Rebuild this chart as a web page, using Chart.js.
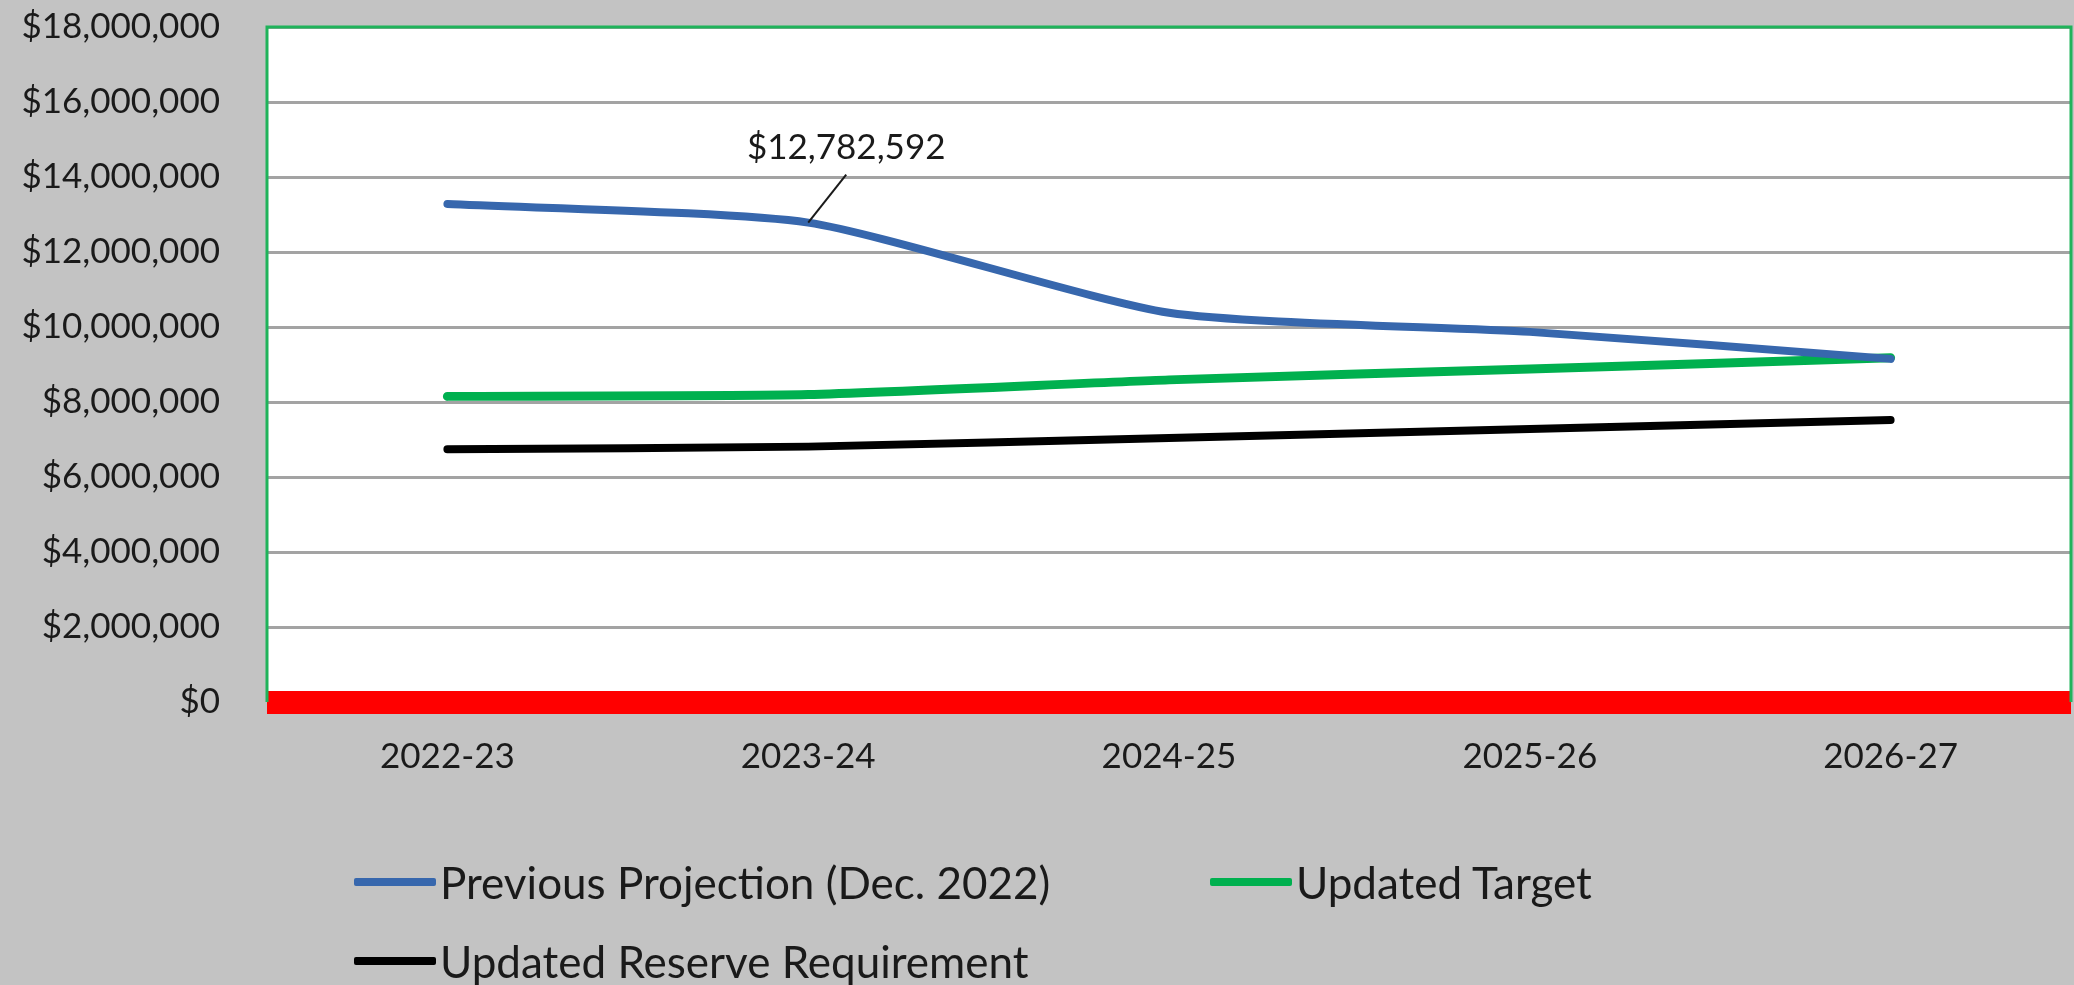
<!DOCTYPE html>
<html>
<head>
<meta charset="utf-8">
<title>Reserve Projection</title>
<script src="https://cdn.jsdelivr.net/npm/chart.js@4.4.1/dist/chart.umd.min.js"></script>
<style>
  html, body { margin: 0; padding: 0; background: #c3c3c3; }
  #wrap { position: relative; width: 2074px; height: 985px; }
  #legend {
    position: absolute; left: 354px; top: 842px;
    display: grid; grid-template-columns: 856px auto; grid-auto-rows: 79px;
    font-family: Lato, sans-serif; font-size: 44px; color: #1a1a1a;
  }
  #legend .item { display: flex; align-items: center; white-space: nowrap; }
  #legend .swatch { width: 82px; height: 8px; margin-right: 4px; border-radius: 2px; }
</style>
</head>
<body>
<div id="wrap">
  <canvas id="reserveChart"></canvas>
  <div id="legend"></div>
</div>
<script>
// fiscal years on the x axis
const years = ['2022-23', '2023-24', '2024-25', '2025-26', '2026-27'];

// series values ($)
const previousProjection = [13280000, 12782592, 10380000, 9870000, 9150000];
const updatedTarget = [8150000, 8200000, 8590000, 8880000, 9180000];
const reserveRequirement = [6740000, 6810000, 7040000, 7280000, 7520000];

// y axis range
const yMin = 0;
const yMax = 18000000;
const yStep = 2000000;

// point on the previous projection that gets a value callout
const calloutIndex = 1;

const TEXT = '#1a1a1a';
const FONT = 'Lato, sans-serif';

function money(v) {
  return '$' + Math.round(v).toLocaleString('en-US');
}

// white plot area with a thin green frame
const plotFrame = {
  id: 'plotFrame',
  beforeDraw(chart) {
    const { ctx, chartArea: a } = chart;
    ctx.save();
    ctx.fillStyle = '#ffffff';
    ctx.fillRect(a.left, a.top, a.right - a.left, a.bottom - a.top);
    ctx.restore();
  },
  beforeDatasetsDraw(chart) {
    const { ctx, chartArea: a } = chart;
    ctx.save();
    ctx.strokeStyle = '#1fb35a';
    ctx.lineWidth = 3;
    ctx.beginPath();
    ctx.moveTo(a.left, a.bottom);
    ctx.lineTo(a.left, a.top);
    ctx.lineTo(a.right, a.top);
    ctx.lineTo(a.right, a.bottom);
    ctx.stroke();
    ctx.restore();
  }
};

// value label with a leader line
const callout = {
  id: 'callout',
  afterDatasetsDraw(chart) {
    const pt = chart.getDatasetMeta(0).data[calloutIndex];
    if (!pt) return;
    const { ctx } = chart;
    ctx.save();
    ctx.strokeStyle = TEXT;
    ctx.lineWidth = 2;
    ctx.beginPath();
    ctx.moveTo(pt.x, pt.y);
    ctx.lineTo(pt.x + 38, pt.y - 48);
    ctx.stroke();
    ctx.font = '35px ' + FONT;
    ctx.fillStyle = TEXT;
    ctx.textAlign = 'center';
    ctx.textBaseline = 'middle';
    ctx.fillText(money(previousProjection[calloutIndex]), pt.x + 38, pt.y - 75);
    ctx.restore();
  }
};

const chart = new Chart(document.getElementById('reserveChart'), {
  type: 'line',
  data: {
    labels: years,
    datasets: [
      {
        label: 'Previous Projection (Dec. 2022)',
        data: previousProjection,
        borderColor: '#3767ad',
        borderWidth: 8
      },
      {
        label: 'Updated Target',
        data: updatedTarget,
        borderColor: '#00b04f',
        borderWidth: 9
      },
      {
        label: 'Updated Reserve Requirement',
        data: reserveRequirement,
        borderColor: '#000000',
        borderWidth: 8
      }
    ]
  },
  options: {
    responsive: true,
    maintainAspectRatio: false,
    animation: false,
    layout: { padding: { top: 27, right: 3, bottom: 0, left: 0 } },
    elements: {
      line: { tension: 0.2, borderCapStyle: 'round', borderJoinStyle: 'round', fill: false },
      point: { radius: 0, hoverRadius: 0 }
    },
    plugins: {
      legend: { display: false },
      tooltip: { enabled: false }
    },
    scales: {
      x: {
        offset: true,
        grid: { display: false, drawTicks: false },
        border: { display: false },
        ticks: { color: TEXT, font: { family: FONT, size: 35 }, padding: 34, maxRotation: 0 },
        afterFit: scale => { scale.height = 283; }
      },
      y: {
        min: yMin,
        max: yMax,
        border: { display: false },
        grid: {
          // invisible tick marks push the labels away from the plot
          drawTicks: true,
          tickLength: 41,
          tickColor: 'rgba(0,0,0,0)',
          color: c => (c.tick && c.tick.value === 0 ? '#ff0000' : '#a3a3a3'),
          lineWidth: c => (c.tick && c.tick.value === 0 ? 23 : 3)
        },
        ticks: {
          stepSize: yStep,
          color: TEXT,
          padding: 6,
          font: { family: FONT, size: 35 },
          callback: v => money(v)
        },
        afterFit: scale => { scale.width = 267; }
      }
    }
  },
  plugins: [plotFrame, callout]
});

// legend built from the chart's own datasets
const legendEl = document.getElementById('legend');
chart.data.datasets.forEach(ds => {
  const item = document.createElement('div');
  item.className = 'item';
  const sw = document.createElement('span');
  sw.className = 'swatch';
  sw.style.background = ds.borderColor;
  const txt = document.createElement('span');
  txt.textContent = ds.label;
  item.appendChild(sw);
  item.appendChild(txt);
  legendEl.appendChild(item);
});
</script>
</body>
</html>
